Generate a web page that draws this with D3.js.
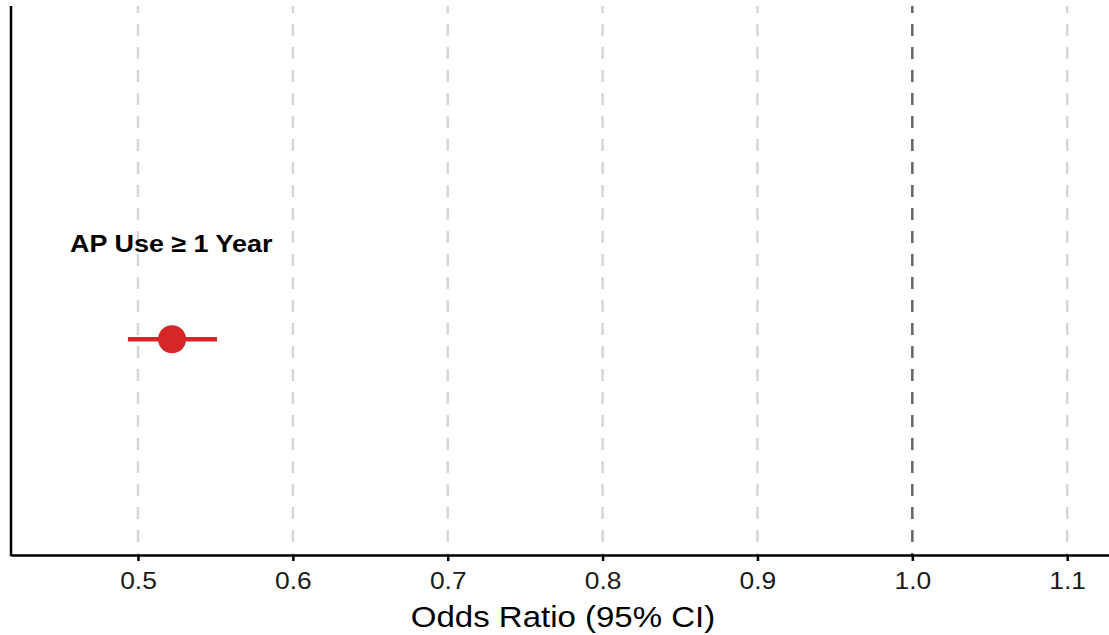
<!DOCTYPE html>
<html>
<head>
<meta charset="utf-8">
<script src="https://cdn.jsdelivr.net/npm/d3@7"></script>
<style>
  html, body { margin: 0; padding: 0; background: #fff; }
  svg { display: block; font-family: "Liberation Sans", Arial, Helvetica, sans-serif; }
</style>
</head>
<body>
<svg id="chart" width="1109" height="635"></svg>
<script>
// Forest plot data
const labels = ["AP Use \u2265 1 Year"];
const oddsRatio = [0.522];
const ciLower = [0.4935];
const ciUpper = [0.551];
const rowPos = [0.393];
const tickValues = [0.5, 0.6, 0.7, 0.8, 0.9, 1.0, 1.1];
const referenceValue = 1.0;

const width = 1109, height = 635;
const margin = { top: 6, right: 0, bottom: 80, left: 11 };
const textStretch = 1.1;
const svg = d3.select("#chart");

const x = d3.scaleLinear()
  .domain([0.418, 1.127])
  .range([margin.left, width - margin.right]);

const y = d3.scaleLinear()
  .domain([0, 1])
  .range([height - margin.bottom, margin.top]);

const red = "#d62728";

// vertical dashed gridlines
svg.append("g")
  .selectAll("line")
  .data(tickValues.filter(v => v !== referenceValue))
  .join("line")
  .attr("x1", d => x(d)).attr("x2", d => x(d))
  .attr("y1", y(1)).attr("y2", y(0))
  .attr("stroke", "#d6d6d6")
  .attr("stroke-width", 2.5)
  .attr("stroke-dasharray", "12,11")
  .attr("stroke-dashoffset", 5);

// null reference line
svg.append("line")
  .attr("x1", x(referenceValue)).attr("x2", x(referenceValue))
  .attr("y1", y(1)).attr("y2", y(0))
  .attr("stroke", "#666666")
  .attr("stroke-width", 2.5)
  .attr("stroke-dasharray", "12,11")
  .attr("stroke-dashoffset", 5);

// x axis
const xAxis = svg.append("g")
  .attr("transform", `translate(0,${y(0)})`)
  .call(d3.axisBottom(x).tickValues(tickValues).tickFormat(d3.format(".1f")).tickSize(6).tickSizeOuter(0));
xAxis.select(".domain").attr("stroke", "#000").attr("stroke-width", 2.5);
xAxis.selectAll(".tick line").attr("stroke", "#000").attr("stroke-width", 2.5);
xAxis.selectAll(".tick text")
  .attr("fill", "#1a1a1a")
  .attr("font-size", 24)
  .attr("font-family", "Liberation Sans, Arial, sans-serif")
  .attr("dy", "0")
  .attr("y", 34)
  .attr("transform", `scale(${textStretch},1)`);

// left axis line
svg.append("line")
  .attr("x1", margin.left).attr("x2", margin.left)
  .attr("y1", y(1)).attr("y2", y(0) + 1.25)
  .attr("stroke", "#000")
  .attr("stroke-width", 2.5);

// x axis title
svg.append("g")
  .attr("transform", `translate(${(margin.left + width) / 2 + 3},627) scale(${textStretch},1)`)
  .append("text")
  .attr("text-anchor", "middle")
  .attr("font-size", 30)
  .attr("fill", "#000")
  .text("Odds Ratio (95% CI)");

// rows
const rows = labels.map((l, i) => ({ label: l, or: oddsRatio[i], lo: ciLower[i], hi: ciUpper[i], pos: rowPos[i] }));

const g = svg.append("g");
g.selectAll("line.ci")
  .data(rows)
  .join("line")
  .attr("class", "ci")
  .attr("x1", d => x(d.lo)).attr("x2", d => x(d.hi))
  .attr("y1", d => y(d.pos)).attr("y2", d => y(d.pos))
  .attr("stroke", red)
  .attr("stroke-width", 4.5);

g.selectAll("circle")
  .data(rows)
  .join("circle")
  .attr("cx", d => x(d.or))
  .attr("cy", d => y(d.pos))
  .attr("r", 14)
  .attr("fill", red);

g.selectAll("g.lbl")
  .data(rows)
  .join("g")
  .attr("class", "lbl")
  .attr("transform", d => `translate(70,${y(d.pos) - 87}) scale(${textStretch},1)`)
  .append("text")
  .attr("font-size", 24.5)
  .attr("font-weight", "bold")
  .attr("fill", "#000")
  .text(d => d.label);
</script>
</body>
</html>
